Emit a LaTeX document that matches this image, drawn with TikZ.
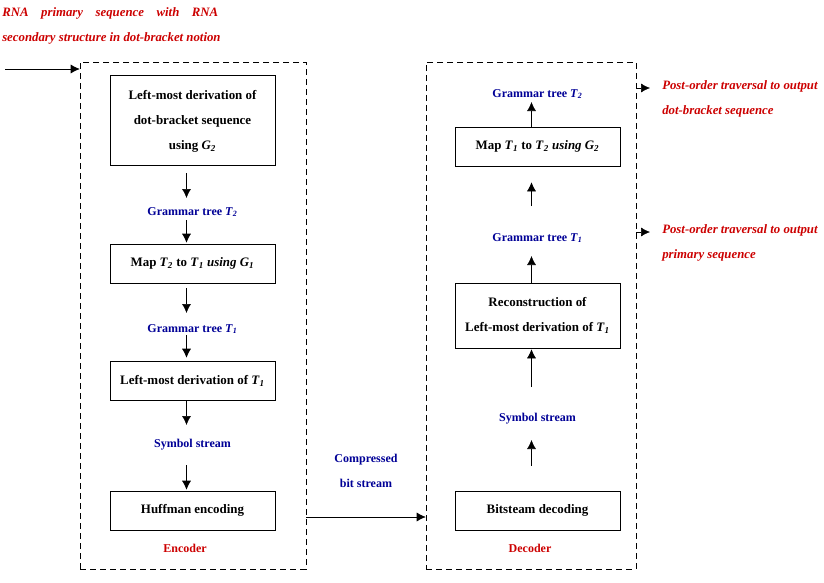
\documentclass[tikz,border=0pt]{standalone}
\usepackage{fontspec}
\setmainfont{Liberation Serif}
\usetikzlibrary{arrows.meta}
\definecolor{codered}{RGB}{204,0,0}
\definecolor{codeblue}{RGB}{0,0,150}
\newcommand{\sym}[2]{\textit{#1}\textsubscript{\textit{#2}}}

\begin{document}
\begin{tikzpicture}[x=0.75pt, y=-0.75pt,
    font=\fontsize{9}{18.75}\selectfont\bfseries,
    blk/.style={draw, minimum width=123.75pt, minimum height=29.25pt, align=center,
      font=\fontsize{9.7}{18.75}\selectfont\bfseries},
    lbl/.style={text=codeblue, inner sep=0pt},
    note/.style={text=codered, font=\fontsize{9.6}{18.75}\selectfont\bfseries\itshape, inner sep=0pt, align=left},
    frame/.style={draw, dash pattern=on 4.5pt off 3pt, minimum height=380.25pt},
    arr/.style={-{Latex[length=6.75pt, width=6.75pt]}}]
 \useasboundingbox (0,0) rectangle (824,582);

 % encoder
 \node[frame, minimum width=169.5pt] (enc) at (193,315.5) {};
 \node[blk, minimum height=67.5pt] (lmdA) at (192.5,120) {\rule{0pt}{9pt}Left-most derivation of\\dot-bracket sequence\\using \sym{G}{2}};
 \node[lbl] (gtA) at (192.5,212) {Grammar tree \sym{T}{2}};
 \node[blk] (mapA) at (192.5,263.5) {Map \sym{T}{2} to \sym{T}{1} \textit{using} \sym{G}{1}};
 \node[lbl] (gtB) at (192.5,329) {Grammar tree \sym{T}{1}};
 \node[blk] (lmdB) at (192.5,380.5) {Left-most derivation of \sym{T}{1}};
 \node[lbl] (ssA) at (192.5,445) {Symbol stream};
 \node[blk] (huff) at (192.5,510.5) {Huffman encoding};
 \node[text=codered] (encname) at (185,548) {Encoder};

 \draw[arr, shorten <=6pt, shorten >=10.5pt] ([xshift=-4.5pt]lmdA.south) -- ([xshift=-4.5pt]gtA.center);
 \draw[arr, shorten <=6pt, shorten >=0.75pt] ([xshift=-4.5pt]gtA.center) -- ([xshift=-4.5pt]mapA.north);
 \draw[arr, shorten <=3.75pt, shorten >=12pt] ([xshift=-4.5pt]mapA.south) -- ([xshift=-4.5pt]gtB.center);
 \draw[arr, shorten <=4.5pt, shorten >=2.25pt] ([xshift=-4.5pt]gtB.center) -- ([xshift=-4.5pt]lmdB.north);
 \draw[arr, shorten <=0.75pt, shorten >=15pt] ([xshift=-4.5pt]lmdB.south) -- ([xshift=-4.5pt]ssA.center);
 \draw[arr, shorten <=15pt, shorten >=0.75pt] ([xshift=-4.5pt]ssA.center) -- ([xshift=-4.5pt]huff.north);

 % input
 \node[note, anchor=north west] (input) at (2,7) {\makebox[162pt][s]{RNA primary sequence with RNA}\\secondary structure in dot-bracket notion};
 \coordinate (inp) at (5,69);
 \draw[arr] (inp) -- (inp -| enc.west);

 % channel
 \node[frame, minimum width=157.5pt] (dec) at (531,315.5) {};
 \node[lbl, align=center] (cbs) at (366,471) {Compressed\\bit stream};
 \coordinate (cb) at (366,517);
 \draw[arr] (enc.east |- cb) -- (dec.west |- cb);

 % decoder
 \node[blk] (bsd) at (537.5,510.5) {Bitsteam decoding};
 \node[lbl] (ssB) at (537.5,419) {Symbol stream};
 \node[blk, minimum height=48.75pt] (rec) at (537.5,315.5) {Reconstruction of\\Left-most derivation of \sym{T}{1}};
 \node[lbl] (gtC) at (537.5,238) {Grammar tree \sym{T}{1}};
 \node[blk] (mapB) at (537.5,146.5) {Map \sym{T}{1} to \sym{T}{2} \textit{using} \sym{G}{2}};
 \node[lbl] (gtD) at (537.5,94) {Grammar tree \sym{T}{2}};
 \node[text=codered] (decname) at (530,548) {Decoder};

 \draw[arr, shorten <=18.75pt, shorten >=15.75pt] ([xshift=-4.5pt]bsd.north) -- ([xshift=-4.5pt]ssB.center);
 \draw[arr, shorten <=24pt, shorten >=0.75pt] ([xshift=-4.5pt]ssB.center) -- ([xshift=-4.5pt]rec.south);
 \draw[arr, shorten >=13.5pt] ([xshift=-4.5pt]rec.north) -- ([xshift=-4.5pt]gtC.center);
 \draw[arr, shorten <=24pt, shorten >=12pt] ([xshift=-4.5pt]gtC.center) -- ([xshift=-4.5pt]mapB.south);
 \draw[arr, shorten >=6pt] ([xshift=-4.5pt]mapB.north) -- ([xshift=-4.5pt]gtD.center);

 % outputs
 \coordinate (o1) at (662,88);
 \coordinate (o2) at (662,232);
 \node[note, anchor=north west] (outA) at (662,80) {Post-order traversal to output\\dot-bracket sequence};
 \node[note, anchor=north west] (outB) at (662,224) {Post-order traversal to output\\primary sequence};
 \draw[arr, shorten >=9pt] (dec.east |- o1) -- (o1);
 \draw[arr, shorten >=9pt] (dec.east |- o2) -- (o2);
\end{tikzpicture}
\end{document}
